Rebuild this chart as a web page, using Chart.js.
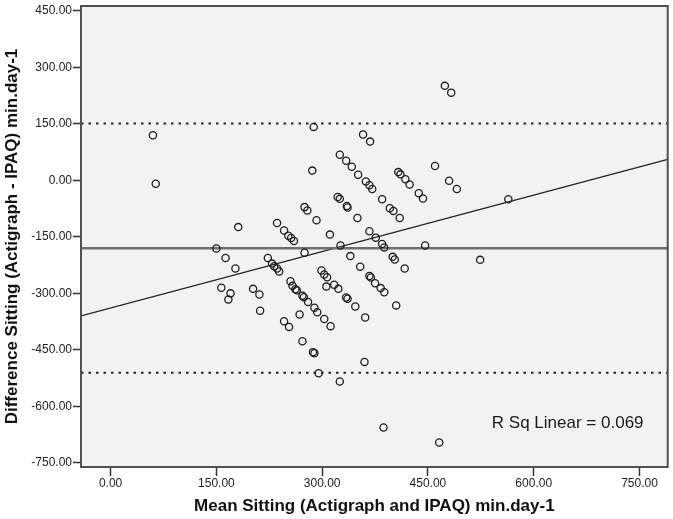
<!DOCTYPE html>
<html>
<head>
<meta charset="utf-8">
<script src="https://cdn.jsdelivr.net/npm/chart.js@4/dist/chart.umd.min.js"></script>
<style>
  html, body { margin: 0; padding: 0; background: #fff; }
  #wrap { width: 673px; height: 519px; }
</style>
</head>
<body>
<div id="wrap"><canvas id="myChart" width="673" height="519"></canvas></div>
<script>
// values
const meanSitting = [60, 64, 181, 236, 246, 252, 256, 260, 150, 163, 177, 223, 229, 232, 236, 239,
  474, 483, 288, 358, 368, 286, 325, 334, 342, 351, 362, 367, 371, 385, 396, 401, 410,
  408, 411, 418, 424, 437, 443, 460, 480, 491, 322, 325, 335, 336, 350, 275, 279, 292,
  311, 367, 376, 385, 388, 446, 326, 275, 340, 400, 403, 354, 417, 299, 303, 307, 306,
  317, 323, 334, 336, 347, 361, 367, 369, 375, 383, 388, 405, 387, 466, 255, 258, 262,
  264, 272, 274, 280, 289, 293, 303, 312, 268, 246, 253, 272, 287, 289, 295, 325, 360,
  170, 157, 167, 202, 211, 212, 564, 524]
const diffSitting = [120, -9, -124, -113, -133, -147, -153, -161, -181, -206, -234, -206, -221, -228, -234, -242,
  251, 233, 142, 122, 103, 26, 68, 52, 36, 15, -3, -13, -23, -50, -74, -81, -100,
  22, 16, 3, -11, -34, -48, 38, -1, -23, -44, -49, -68, -72, -100, -71, -80, -106,
  -144, -135, -152, -169, -178, -173, -173, -192, -201, -203, -210, -229, -234, -239, -250, -257, -282,
  -277, -288, -311, -314, -335, -364, -254, -258, -273, -286, -297, -332, -656, -696, -268, -280, -289,
  -292, -306, -310, -323, -338, -350, -368, -387, -356, -374, -389, -427, -456, -459, -512, -534, -482,
  -300, -285, -316, -288, -303, -346, -50, -211]

const meanDiff = -180
const upperLoA = 151
const lowerLoA = -511
const regIntercept = -339
const regSlope = 0.5
const rSqText = 'R Sq Linear = 0.069'

const xMin = -42, xMax = 790
const yMin = -761, yMax = 463
const xTicks = [0, 150, 300, 450, 600, 750]
const yTicks = [-750, -600, -450, -300, -150, 0, 150, 300, 450]

const points = meanSitting.map((m, i) => ({ x: m, y: diffSitting[i] }))
function hline(v) { return [{ x: xMin, y: v }, { x: xMax, y: v }] }
const regLine = [xMin, xMax].map(x => ({ x: x, y: regIntercept + regSlope * x }))

const FONT = "'Liberation Sans', Arial, sans-serif"

const frame = {
  id: 'frame',
  beforeDraw(chart) {
    const a = chart.chartArea, c = chart.ctx
    c.save()
    c.fillStyle = '#f2f2f2'
    c.fillRect(a.left, a.top, a.right - a.left, a.bottom - a.top)
    c.restore()
  },
  afterDraw(chart) {
    const a = chart.chartArea, c = chart.ctx
    c.save()
    c.strokeStyle = '#505050'
    c.lineWidth = 2
    c.strokeRect(a.left, a.top, a.right - a.left, a.bottom - a.top)
    c.fillStyle = '#1a1a1a'
    c.font = '17px ' + FONT
    c.textAlign = 'center'
    c.textBaseline = 'middle'
    c.fillText(rSqText, a.right - 100, a.bottom - 44)
    c.restore()
  }
}

function noPad(scale) {
  scale.paddingTop = 0; scale.paddingBottom = 0
  scale.paddingLeft = 0; scale.paddingRight = 0
}

const config = {
  type: 'scatter',
  data: {
    datasets: [
      {
        label: 'points', data: points, order: 0,
        pointRadius: 3.6, pointBorderWidth: 1.3,
        pointBorderColor: '#1e1e1e', pointBackgroundColor: 'rgba(0,0,0,0)'
      },
      {
        label: 'mean', data: hline(meanDiff), order: 1, showLine: true,
        borderColor: '#6e6e6e', borderWidth: 2.5, pointRadius: 0
      },
      {
        label: 'upper', data: hline(upperLoA), order: 1, showLine: true,
        borderColor: '#222', borderWidth: 2, borderDash: [2.5, 5], pointRadius: 0
      },
      {
        label: 'lower', data: hline(lowerLoA), order: 1, showLine: true,
        borderColor: '#222', borderWidth: 2, borderDash: [2.5, 5], pointRadius: 0
      },
      {
        label: 'fit', data: regLine, order: 1, showLine: true,
        borderColor: '#222', borderWidth: 1.3, pointRadius: 0
      }
    ]
  },
  options: {
    responsive: false,
    animation: false,
    layout: { padding: { top: 6, right: 5, left: 0, bottom: 0 } },
    plugins: { legend: { display: false }, tooltip: { enabled: false } },
    scales: {
      x: {
        type: 'linear', min: xMin, max: xMax,
        afterBuildTicks: s => { s.ticks = xTicks.map(v => ({ value: v })) },
        afterFit: s => { s.height = 52; noPad(s) },
        border: { display: false },
        grid: { drawOnChartArea: false, drawTicks: true, tickLength: 9, tickColor: '#333', tickWidth: 1.5 },
        ticks: { padding: 0, color: '#222', font: { family: FONT, size: 12 }, maxRotation: 0,
          callback: v => v.toFixed(2) },
        title: { display: true, text: 'Mean Sitting (Actigraph and IPAQ) min.day-1', color: '#111',
          padding: { top: 0, bottom: 2 }, font: { family: FONT, size: 17, weight: 'bold' } }
      },
      y: {
        type: 'linear', min: yMin, max: yMax,
        afterBuildTicks: s => { s.ticks = yTicks.map(v => ({ value: v })) },
        afterFit: s => { s.width = 81; noPad(s) },
        border: { display: false },
        grid: { drawOnChartArea: false, drawTicks: true, tickLength: 8, tickColor: '#333', tickWidth: 1.5 },
        ticks: { padding: 1, color: '#222', font: { family: FONT, size: 12 },
          callback: v => v.toFixed(2) },
        title: { display: true, text: 'Difference Sitting (Actigraph - IPAQ) min.day-1', color: '#111',
          padding: { top: 2, bottom: 0 }, font: { family: FONT, size: 17, weight: 'bold' } }
      }
    }
  },
  plugins: [frame]
}

var myChart = new Chart(document.getElementById('myChart'), config)
</script>
</body>
</html>
